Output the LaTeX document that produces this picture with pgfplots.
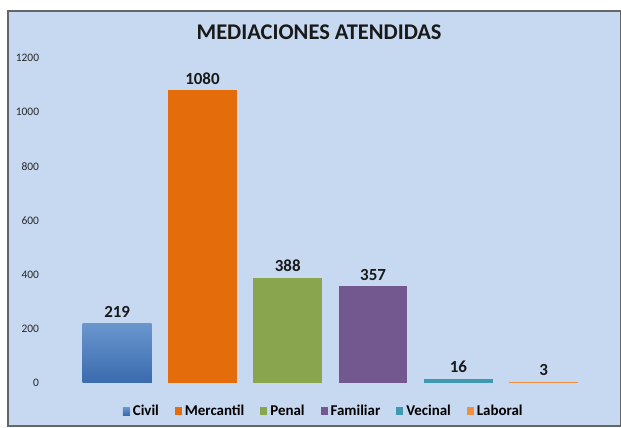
\documentclass[border=0pt]{standalone}
\usepackage{pgfplots}
\pgfplotsset{compat=1.18}
\usepackage{fontspec}
\setmainfont{Carlito}
\definecolor{bgblue}{HTML}{C6D9F1}
\definecolor{cCivilT}{HTML}{6A96CE}
\definecolor{cCivilB}{HTML}{3A6BAE}
\definecolor{cMerc}{HTML}{E46C0A}
\definecolor{cPenal}{HTML}{89A64F}
\definecolor{cFam}{HTML}{72588F}
\definecolor{cVec}{HTML}{3F9AB1}
\definecolor{cLab}{HTML}{F0903F}
\begin{document}
\begin{tikzpicture}
\fill[white] (0pt,0pt) rectangle (621pt,429pt);
\fill[bgblue, draw=gray!80!black, line width=1.5pt] (8pt,2pt) rectangle (622pt,418pt);
\node[font=\bfseries\fontsize{22.5}{24}\selectfont, text=black!90] at (320pt,397pt) {MEDIACIONES ATENDIDAS};
\begin{axis}[
    at={(74.7pt,45pt)}, anchor=south west,
    scale only axis,
    width=513.3pt, height=326pt,
    xmin=-0.5, xmax=5.5, ymin=0, ymax=1200,
    enlargelimits=false, clip=false,
    ybar, bar width=69pt, bar shift=0pt,
    axis line style={draw=none},
    xtick=\empty,
    ytick={0,200,...,1200},
    major tick length=0pt,
    /pgf/number format/assume math mode=true,
    /pgf/number format/1000 sep={},
    yticklabel style={font=\fontsize{11.5}{13}\selectfont, text=black!85, xshift=-32pt},
    nodes near coords,
    nodes near coords style={font=\bfseries\fontsize{17}{19}\selectfont, text=black!90, yshift=2.5pt},
    legend style={at={(0.487,-0.087)}, anchor=center, draw=none, fill=none,
        legend columns=6, font=\bfseries\fontsize{15}{17}\selectfont,
        /tikz/every odd column/.append style={column sep=1pt},
        /tikz/every even column/.append style={column sep=14pt}},
    legend image code/.code={\fill[#1] (0pt,-3.8pt) rectangle (7pt,4pt);},
]
\addplot[draw=none, fill=cCivilB, top color=cCivilT, bottom color=cCivilB] coordinates {(0,219)};
\addplot[draw=none, fill=cMerc] coordinates {(1,1080)};
\addplot[draw=none, fill=cPenal] coordinates {(2,388)};
\addplot[draw=none, fill=cFam] coordinates {(3,357)};
\addplot[draw=none, fill=cVec] coordinates {(4,16)};
\addplot[draw=none, fill=cLab] coordinates {(5,3)};
\legend{Civil, Mercantil, Penal, Familiar, Vecinal, Laboral}
\end{axis}
\end{tikzpicture}
\end{document}
